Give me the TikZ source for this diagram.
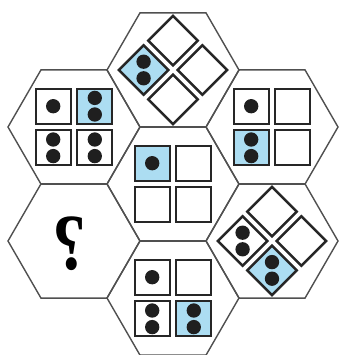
\documentclass[tikz,border=0pt]{standalone}
\usepackage{fontspec}
\newfontfamily\qmfont{Liberation Serif}
\usetikzlibrary{calc}
\definecolor{tileblue}{RGB}{172,221,242}
\definecolor{hexgray}{RGB}{80,80,80}
\tikzset{
  hexa/.style={draw=hexgray, line width=1.2pt, line join=miter},
  cell/.style={draw=black!85, line width=2pt, minimum size=1.05cm, inner sep=0pt, fill=white},
  bluecell/.style={cell, fill=tileblue},
  dot/.style={circle, fill=black!88, minimum size=0.43cm, inner sep=0pt},
}

\begin{document}
\begin{tikzpicture}[x=0.03cm, y=-0.03cm]
  \useasboundingbox (0,0) rectangle (339,355);

  % hexagon centres
  \coordinate (hexT)  at (173,70);
  \coordinate (hexUL) at (74,127);
  \coordinate (hexUR) at (272,127);
  \coordinate (hexC)  at (173,184);
  \coordinate (hexLL) at (74,241);
  \coordinate (hexLR) at (272,241);
  \coordinate (hexB)  at (173,298);

  % honeycomb
  \foreach \h in {hexT,hexUL,hexUR,hexC,hexLL,hexLR,hexB}
    \draw[hexa] (\h) +(0:66) -- +(60:66) -- +(120:66) -- +(180:66) -- +(240:66) -- +(300:66) -- cycle;

  % square tiles
  \foreach \h/\i/\x/\y/\s in {UL/1/-1/-1/cell, UL/2/1/-1/bluecell, UL/3/-1/1/cell, UL/4/1/1/cell,
                              UR/1/-1/-1/cell, UR/2/1/-1/cell, UR/3/-1/1/bluecell, UR/4/1/1/cell,
                              C/1/-1/-1/bluecell, C/2/1/-1/cell, C/3/-1/1/cell, C/4/1/1/cell,
                              B/1/-1/-1/cell, B/2/1/-1/cell, B/3/-1/1/cell, B/4/1/1/bluecell}
    \node[\s] (\h\i) at ($(hex\h)+(20.8*\x,20.8*\y)$) {};

  % diamond tiles (turned by 45 degrees)
  \foreach \h/\i/\x/\y/\s in {T/1/-1/0/bluecell, T/2/0/-1/cell, T/3/1/0/cell, T/4/0/1/cell,
                              LR/1/-1/0/cell, LR/2/0/-1/cell, LR/3/1/0/cell, LR/4/0/1/bluecell}
    \node[\s, rotate=45] (\h\i) at ($(hex\h)+(29.4*\x,29.4*\y)$) {};

  % dots
  \foreach \c in {UL1,UR1,C1,B1}
    \node[dot] (\c-a) at (\c) {};
  \foreach \c in {T1,UL2,UL3,UL4,UR3,LR1,LR4,B3,B4} {
    \node[dot] (\c-a) at ($(\c)+(0,-8.3)$) {};
    \node[dot] (\c-b) at ($(\c)+(0,8.3)$) {};
  }

  % missing tile
  \node[font=\qmfont\bfseries\fontsize{68}{68}\selectfont, inner sep=0pt] (qm) at (70,244) {\scalebox{-0.85}[1]{?}};
\end{tikzpicture}
\end{document}
